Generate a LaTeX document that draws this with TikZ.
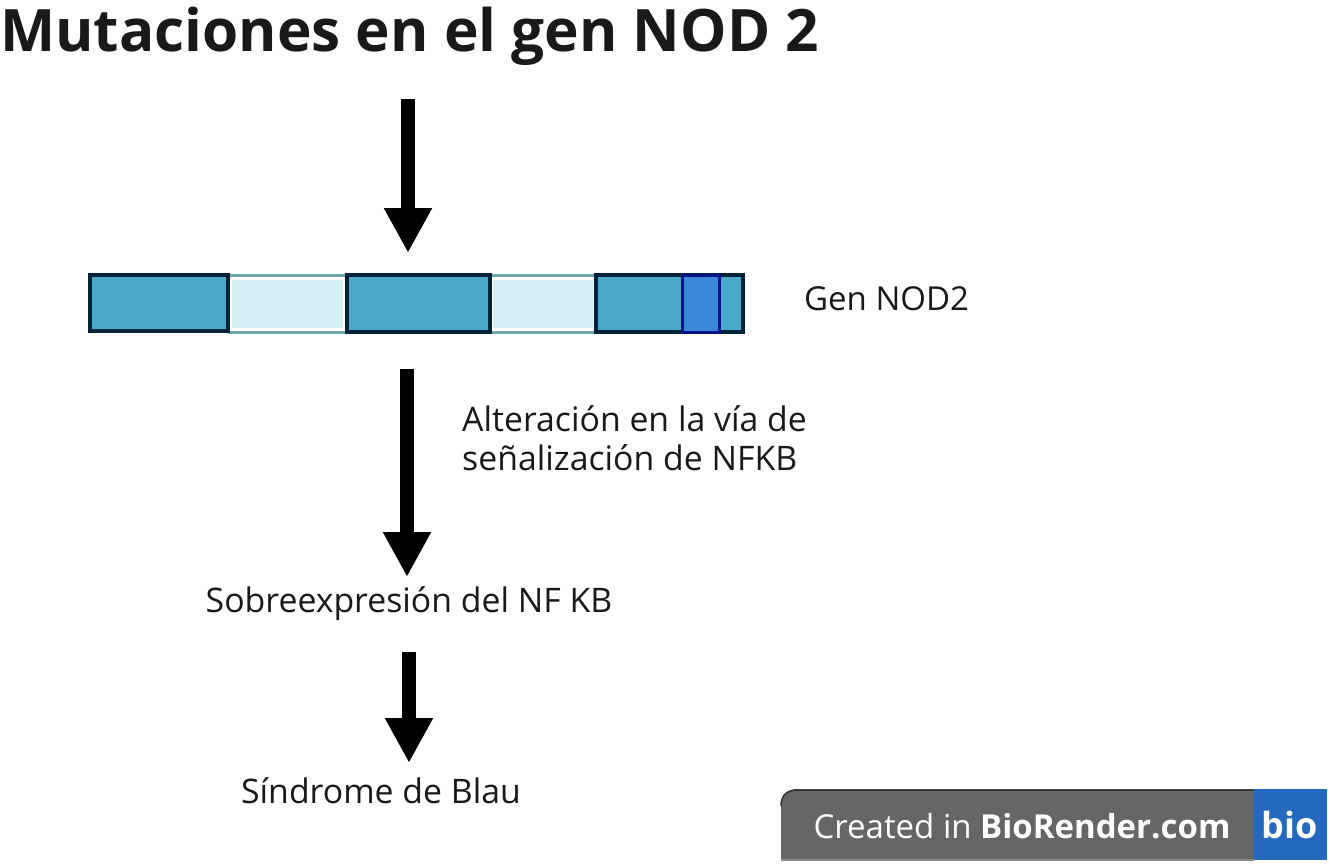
\documentclass[tikz,border=0pt]{standalone}
\usepackage{fontspec}
\setmainfont{Open Sans}
\usetikzlibrary{arrows.meta}

\begin{document}
\begin{tikzpicture}[x=1pt, y=-1pt]
    \definecolor{borderColour}{HTML}{02223A}
    \definecolor{geneColour}{HTML}{49A9C9}
    \definecolor{paleColour}{HTML}{D6F0F5}
    \definecolor{paleBorder}{HTML}{6FA6AE}
    \definecolor{markColour}{HTML}{3B87D8}
    \definecolor{badgeColour}{HTML}{666666}
    \definecolor{bioColour}{HTML}{2469BE}

    \tikzset{
        bigArrow/.style={line width=14pt, -{Triangle[length=45pt, width=45pt]}},
        label/.style={font=\fontsize{33.8}{39}\selectfont, inner sep=0pt, text=black!90},
        geneBox/.style={draw=borderColour, fill=geneColour, line width=3.5pt},
        paleBox/.style={fill=paleColour},
        paleEdge/.style={draw=paleBorder, line width=3pt}
    }

    % Fix the page size
    \useasboundingbox (0,0) rectangle (1330,865);

    % Title
    \node[anchor=west, inner sep=0pt, font=\bfseries\fontsize{58.5}{62}\selectfont, text=black!90] (title) at (0,36) {Mutaciones en el gen NOD 2};

    % Draw the gene
    \foreach \xa/\xb in {232/343, 493/593} {
        \fill[paleBox] (\xa,280) rectangle (\xb,328);
        \draw[paleEdge] (\xa-4,275) -- (\xb+3,275);
        \draw[paleEdge] (\xa-4,332) -- (\xb+3,332);
    }
    \draw[geneBox] (90,275) rectangle (228,331);
    \draw[geneBox] (347,275) rectangle (490,332);
    \draw[geneBox] (596,275) rectangle (743,332);
    \draw[draw=borderColour!60!blue, fill=markColour, line width=3pt] (682,275) rectangle (719,332);
    \coordinate (geneTop) at (408,253);
    \coordinate (geneBottom) at (407,369);
    \node[label, anchor=west, font=\fontsize{33}{39}\selectfont] (geneLabel) at (804,299) {Gen NOD2};

    % Labels
    \node[label, anchor=west, align=left] (pathway) at (462,438) {Alteración en la vía de\\señalización de NFKB};
    \node[label, anchor=center] (nfkb) at (409,604) {Sobreexpresión del NF KB};
    \node[label, anchor=center] (blau) at (381,791) {Síndrome de Blau};

    % Arrows
    \coordinate (startA) at (408,99);
    \coordinate (endB) at (407,577);
    \coordinate (startC) at (409,652);
    \coordinate (endC) at (409,763);
    \draw[bigArrow] (startA) -- (geneTop);
    \draw[bigArrow] (geneBottom) -- (endB);
    \draw[bigArrow] (startC) -- (endC);

    % BioRender badge
    \fill[badgeColour] (781,860) -- (781,806) .. controls (781,795) and (787,789) .. (798,789) -- (1254,789) -- (1254,860) -- cycle;
    \fill[bioColour] (1254,789) rectangle (1327,860);
    \draw[black!80, line width=1.5pt] (781,806) .. controls (781,795) and (787,790) .. (798,790) -- (1254,790);
    \draw[black!45, line width=1.5pt] (781,860) -- (1254,860);
    \node[anchor=center, inner sep=0pt, text=white, font=\fontsize{33}{36}\selectfont] (badge) at (1022,826) {Created in \textbf{BioRender.com}};
    \node[anchor=center, inner sep=0pt, text=white, font=\bfseries\fontsize{36}{38}\selectfont] (bio) at (1290,825) {bio};
\end{tikzpicture}
\end{document}
